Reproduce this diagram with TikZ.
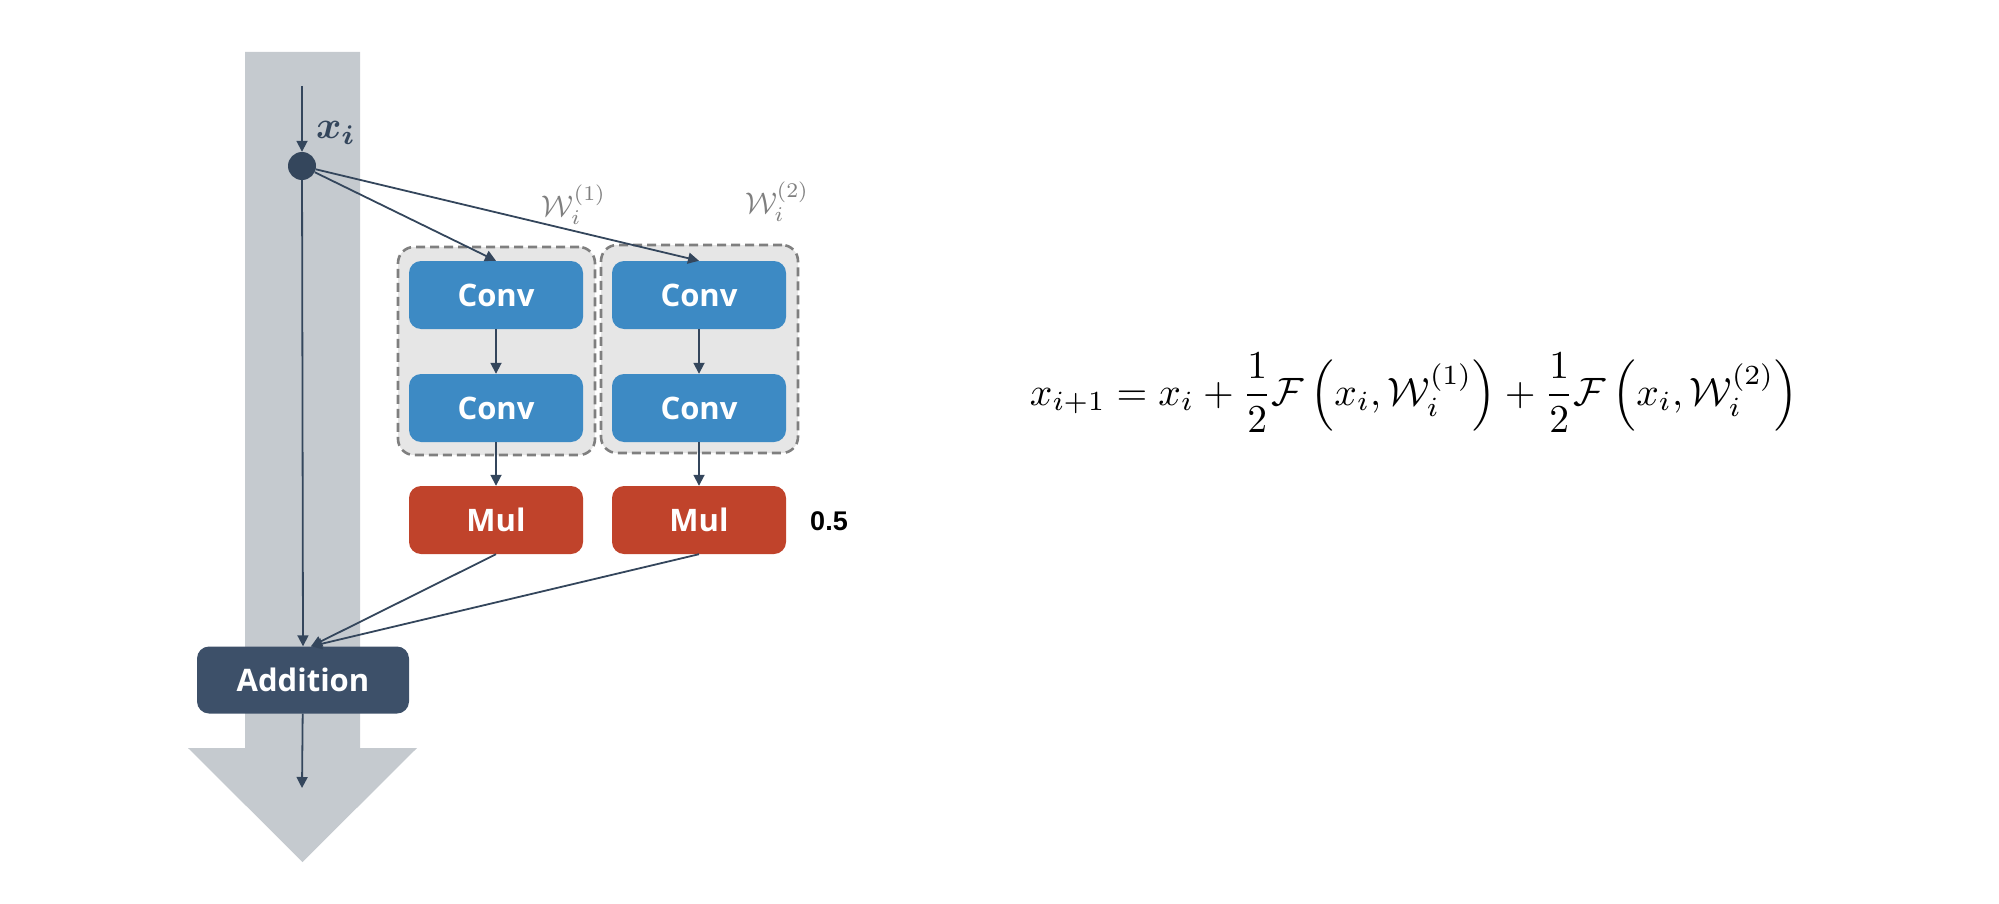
\documentclass[tikz,border=0pt]{standalone}
\usepackage{amsmath}
\usepackage{graphicx}
\usepackage{fontspec}
\newfontfamily\boxfont{Open Sans}
\newfontfamily\numfont{Liberation Sans}
\usetikzlibrary{arrows.meta}
\definecolor{bargray}{HTML}{C5CACF}
\definecolor{navy}{HTML}{34465C}
\definecolor{convblue}{HTML}{3D8AC4}
\definecolor{mulred}{HTML}{C0432B}
\definecolor{addnavy}{HTML}{3D5069}
\definecolor{grpfill}{HTML}{E6E6E6}
\definecolor{grpline}{HTML}{7F7F7F}
\tikzset{
  blk/.style={rectangle, rounded corners=12pt, minimum width=174pt, minimum height=68pt,
    inner sep=0pt, text=white, font=\boxfont\bfseries\fontsize{31}{36}\selectfont},
  convbox/.style={blk, fill=convblue},
  mulbox/.style={blk, fill=mulred},
  grp/.style={rectangle, rounded corners=16pt, minimum width=197pt, minimum height=208pt,
    fill=grpfill, draw=grpline, line width=2.6pt, dash pattern=on 9pt off 5pt},
  conn/.style={draw=navy, line width=1.8pt, -{Triangle[width=11pt,length=11pt]}},
}
\begin{document}
\begin{tikzpicture}[x=1pt,y=-1pt]
\useasboundingbox (0,0) rectangle (1999,904);
% big arrow
\fill[bargray] (245,52) -- (360,52) -- (360,748) -- (417,748) -- (302.5,862) -- (188,748) -- (245,748) -- cycle;
% groups
\node[grp] (g1) at (496.5,351) {};
\node[grp] (g2) at (699.5,349) {};
% blocks
\node[convbox] (c1) at (496,295) {Conv};
\node[convbox] (c2) at (496,408) {Conv};
\node[convbox] (c3) at (699,295) {Conv};
\node[convbox] (c4) at (699,408) {Conv};
\node[mulbox] (m1) at (496,520) {Mul};
\node[mulbox] (m2) at (699,520) {Mul};
\node[blk, fill=addnavy, minimum width=212pt, minimum height=67pt] (add) at (303,680) {Addition};
% input dot
\coordinate (in) at (302,86);
\node[circle, fill=navy, minimum size=28pt, inner sep=0pt] (dot) at (302,166) {};
\coordinate (out) at (302,788);
% labels
\node[text=navy, inner sep=0pt] (xl) at (336,133) {\resizebox{40pt}{!}{\boldmath$x_i$}};
\node[text=grpline, inner sep=0pt] (w1) at (574,205) {\resizebox{64pt}{!}{$\mathcal{W}_i^{(1)}$}};
\node[text=grpline, inner sep=0pt] (w2) at (777,202) {\resizebox{64pt}{!}{$\mathcal{W}_i^{(2)}$}};
\node[font=\numfont\bfseries\fontsize{27}{30}\selectfont, inner sep=0pt] (half) at (829,521) {0.5};
\node[anchor=base, inner sep=0pt] (eq) at (1414,405)
  {\resizebox{768pt}{!}{$x_{i+1} = x_i + \dfrac{1}{2}\mathcal{F}\left(x_i,\mathcal{W}_i^{(1)}\right) + \dfrac{1}{2}\mathcal{F}\left(x_i,\mathcal{W}_i^{(2)}\right)$}};
% connectors
\draw[conn] (in) -- (dot);
\draw[conn] (dot) -- (add.north);
\draw[conn] (dot) -- (c1.north);
\draw[conn] (dot) -- (c3.north);
\draw[conn] (c1) -- (c2);
\draw[conn] (c3) -- (c4);
\draw[conn] (c2) -- (m1);
\draw[conn] (c4) -- (m2);
\draw[conn] (m1.south) -- ([xshift=8pt]add.north);
\draw[conn] (m2.south) -- ([xshift=8pt]add.north);
\draw[conn] (add) -- (out);
\end{tikzpicture}
\end{document}
